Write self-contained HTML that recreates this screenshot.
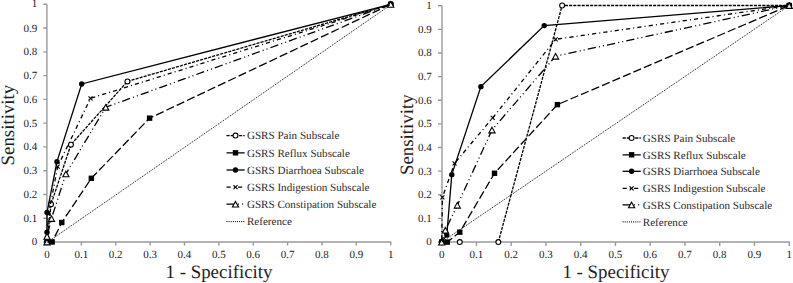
<!DOCTYPE html>
<html><head><meta charset="utf-8"><style>
html,body{margin:0;padding:0;background:#fff;}
body{width:793px;height:283px;overflow:hidden;}
svg{display:block;}
text{font-family:"Liberation Serif",serif;fill:#1a1a1a;text-rendering:geometricPrecision;}
.tl{font-size:11px;fill:#222;}
.ti{font-size:18.9px;fill:#1e1e1e;}
.lg{font-size:11.1px;fill:#2a2a2a;}
</style></head><body>
<svg width="793" height="283" viewBox="0 0 793 283">
<rect width="793" height="283" fill="#fff"/>
<path d="M46.9 4.3V242.0H391.20" stroke="#9a9a9a" stroke-width="1.4" fill="none"/>
<path d="M43.30 242.00H46.9M47.00 242.0V245.60M43.30 218.23H46.9M81.37 242.0V245.60M43.30 194.46H46.9M115.74 242.0V245.60M43.30 170.69H46.9M150.11 242.0V245.60M43.30 146.92H46.9M184.48 242.0V245.60M43.30 123.15H46.9M218.85 242.0V245.60M43.30 99.38H46.9M253.22 242.0V245.60M43.30 75.61H46.9M287.59 242.0V245.60M43.30 51.84H46.9M321.96 242.0V245.60M43.30 28.07H46.9M356.33 242.0V245.60M43.30 4.30H46.9M390.70 242.0V245.60" stroke="#9a9a9a" stroke-width="1.4" fill="none"/>
<text x="37.30" y="245.47" text-anchor="end" class="tl">0</text>
<text x="47.00" y="258.1" text-anchor="middle" class="tl">0</text>
<text x="37.30" y="221.70" text-anchor="end" class="tl">0.1</text>
<text x="81.37" y="258.1" text-anchor="middle" class="tl">0.1</text>
<text x="37.30" y="197.93" text-anchor="end" class="tl">0.2</text>
<text x="115.74" y="258.1" text-anchor="middle" class="tl">0.2</text>
<text x="37.30" y="174.16" text-anchor="end" class="tl">0.3</text>
<text x="150.11" y="258.1" text-anchor="middle" class="tl">0.3</text>
<text x="37.30" y="150.39" text-anchor="end" class="tl">0.4</text>
<text x="184.48" y="258.1" text-anchor="middle" class="tl">0.4</text>
<text x="37.30" y="126.62" text-anchor="end" class="tl">0.5</text>
<text x="218.85" y="258.1" text-anchor="middle" class="tl">0.5</text>
<text x="37.30" y="102.85" text-anchor="end" class="tl">0.6</text>
<text x="253.22" y="258.1" text-anchor="middle" class="tl">0.6</text>
<text x="37.30" y="79.08" text-anchor="end" class="tl">0.7</text>
<text x="287.59" y="258.1" text-anchor="middle" class="tl">0.7</text>
<text x="37.30" y="55.31" text-anchor="end" class="tl">0.8</text>
<text x="321.96" y="258.1" text-anchor="middle" class="tl">0.8</text>
<text x="37.30" y="31.54" text-anchor="end" class="tl">0.9</text>
<text x="356.33" y="258.1" text-anchor="middle" class="tl">0.9</text>
<text x="37.30" y="7.17" text-anchor="end" class="tl">1</text>
<text x="390.70" y="258.1" text-anchor="middle" class="tl">1</text>
<text transform="translate(14.00 125.10) rotate(-90)" text-anchor="middle" class="ti">Sensitivity</text>
<text x="219.00" y="278.40" text-anchor="middle" class="ti">1 - Specificity</text>
<path d="M47.00 242.00L51.06 204.21L70.92 144.64L127.43 81.43L390.70 4.30" stroke="#000" stroke-width="1.3" fill="none" stroke-dasharray="3.1,1.1" stroke-dashoffset="-0.9"/>
<circle cx="47.00" cy="242.00" r="2.45" fill="#fff" stroke="#000" stroke-width="1.1"/>
<circle cx="51.06" cy="204.21" r="2.45" fill="#fff" stroke="#000" stroke-width="1.1"/>
<circle cx="70.92" cy="144.64" r="2.45" fill="#fff" stroke="#000" stroke-width="1.1"/>
<circle cx="127.43" cy="81.43" r="2.45" fill="#fff" stroke="#000" stroke-width="1.1"/>
<circle cx="390.70" cy="4.30" r="2.45" fill="#fff" stroke="#000" stroke-width="1.1"/>
<path d="M47.00 242.00L52.16 242.00L61.78 222.51L91.34 178.30L149.59 118.16L390.70 4.30" stroke="#000" stroke-width="1.3" fill="none" stroke-dasharray="8.3,3.1"/>
<rect x="44.30" y="239.30" width="5.4" height="5.4" fill="#000"/>
<rect x="49.46" y="239.30" width="5.4" height="5.4" fill="#000"/>
<rect x="59.08" y="219.81" width="5.4" height="5.4" fill="#000"/>
<rect x="88.64" y="175.60" width="5.4" height="5.4" fill="#000"/>
<rect x="146.89" y="115.46" width="5.4" height="5.4" fill="#000"/>
<rect x="388.00" y="1.60" width="5.4" height="5.4" fill="#000"/>
<path d="M47.00 242.00L47.00 232.25L47.00 212.53L56.97 161.66L81.71 83.93L390.70 4.30" stroke="#000" stroke-width="1.3" fill="none"/>
<circle cx="47.00" cy="242.00" r="2.7" fill="#000"/>
<circle cx="47.00" cy="232.25" r="2.7" fill="#000"/>
<circle cx="47.00" cy="212.53" r="2.7" fill="#000"/>
<circle cx="56.97" cy="161.66" r="2.7" fill="#000"/>
<circle cx="81.71" cy="83.93" r="2.7" fill="#000"/>
<circle cx="390.70" cy="4.30" r="2.7" fill="#000"/>
<path d="M47.00 242.00L47.00 234.87L48.72 213.48L57.65 166.65L90.51 98.36L390.70 4.30" stroke="#000" stroke-width="1.3" fill="none" stroke-dasharray="4.2,3.1,1.05,3.1" stroke-dashoffset="-3.9"/>
<path d="M45.00 240.00L49.00 244.00M49.00 240.00L45.00 244.00" stroke="#000" stroke-width="1.1" fill="none"/>
<path d="M45.00 232.87L49.00 236.87M49.00 232.87L45.00 236.87" stroke="#000" stroke-width="1.1" fill="none"/>
<path d="M46.72 211.48L50.72 215.48M50.72 211.48L46.72 215.48" stroke="#000" stroke-width="1.1" fill="none"/>
<path d="M55.65 164.65L59.65 168.65M59.65 164.65L55.65 168.65" stroke="#000" stroke-width="1.1" fill="none"/>
<path d="M88.51 96.36L92.51 100.36M92.51 96.36L88.51 100.36" stroke="#000" stroke-width="1.1" fill="none"/>
<path d="M388.70 2.30L392.70 6.30M392.70 2.30L388.70 6.30" stroke="#000" stroke-width="1.1" fill="none"/>
<path d="M47.00 242.00L47.00 236.30L51.47 218.47L65.90 173.92L105.77 107.22L390.70 4.30" stroke="#000" stroke-width="1.3" fill="none" stroke-dasharray="8.3,3.1,1.05,3.1,1.05,3.1" stroke-dashoffset="-8.5"/>
<path d="M47.00 239.30L50.10 244.90L43.90 244.90Z" fill="#fff" stroke="#000" stroke-width="1.1"/>
<path d="M47.00 233.60L50.10 239.20L43.90 239.20Z" fill="#fff" stroke="#000" stroke-width="1.1"/>
<path d="M51.47 215.77L54.57 221.37L48.37 221.37Z" fill="#fff" stroke="#000" stroke-width="1.1"/>
<path d="M65.90 171.22L69.00 176.82L62.80 176.82Z" fill="#fff" stroke="#000" stroke-width="1.1"/>
<path d="M105.77 104.52L108.87 110.12L102.67 110.12Z" fill="#fff" stroke="#000" stroke-width="1.1"/>
<path d="M390.70 1.60L393.80 7.20L387.60 7.20Z" fill="#fff" stroke="#000" stroke-width="1.1"/>
<path d="M47.00 242.50L390.70 4.80" stroke="#000" stroke-width="0.95" fill="none" stroke-dasharray="1.05,1.05"/>
<path d="M226.50 135.60H244.70" stroke="#000" stroke-width="1.3" fill="none" stroke-dasharray="3.1,1.1"/>
<circle cx="235.50" cy="135.60" r="2.45" fill="#fff" stroke="#000" stroke-width="1.1"/>
<text x="246.90" y="139.10" class="lg">GSRS Pain Subscale</text>
<path d="M226.50 152.80H244.70" stroke="#000" stroke-width="1.3" fill="none" stroke-dasharray="8.3,3.1"/>
<rect x="232.80" y="150.10" width="5.4" height="5.4" fill="#000"/>
<text x="246.90" y="156.60" class="lg">GSRS Reflux Subscale</text>
<path d="M226.50 170.00H244.70" stroke="#000" stroke-width="1.3" fill="none"/>
<circle cx="235.50" cy="170.00" r="2.7" fill="#000"/>
<text x="246.90" y="173.60" class="lg">GSRS Diarrhoea Subscale</text>
<path d="M226.50 187.10H244.70" stroke="#000" stroke-width="1.3" fill="none" stroke-dasharray="4.2,3.1,1.05,3.1"/>
<path d="M233.50 185.10L237.50 189.10M237.50 185.10L233.50 189.10" stroke="#000" stroke-width="1.1" fill="none"/>
<text x="246.90" y="190.80" class="lg">GSRS Indigestion Subscale</text>
<path d="M226.50 204.10H244.70" stroke="#000" stroke-width="1.3" fill="none" stroke-dasharray="8.3,3.1,1.05,3.1,1.05,3.1"/>
<path d="M235.50 201.40L238.60 207.00L232.40 207.00Z" fill="#fff" stroke="#000" stroke-width="1.1"/>
<text x="246.90" y="207.60" class="lg">GSRS Constipation Subscale</text>
<path d="M226.50 221.60H244.70" stroke="#000" stroke-width="1.0" fill="none" stroke-dasharray="1.05,1.05"/>
<text x="246.90" y="224.80" class="lg">Reference</text>
<path d="M442.0 5.7V242.0H789.70" stroke="#9a9a9a" stroke-width="1.4" fill="none"/>
<path d="M438.00 242.00H442.0M441.70 242.0V246.00M438.00 218.37H442.0M476.45 242.0V246.00M438.00 194.74H442.0M511.20 242.0V246.00M438.00 171.11H442.0M545.95 242.0V246.00M438.00 147.48H442.0M580.70 242.0V246.00M438.00 123.85H442.0M615.45 242.0V246.00M438.00 100.22H442.0M650.20 242.0V246.00M438.00 76.59H442.0M684.95 242.0V246.00M438.00 52.96H442.0M719.70 242.0V246.00M438.00 29.33H442.0M754.45 242.0V246.00M438.00 5.70H442.0M789.20 242.0V246.00" stroke="#9a9a9a" stroke-width="1.4" fill="none"/>
<text x="431.80" y="245.47" text-anchor="end" class="tl">0</text>
<text x="441.70" y="258.1" text-anchor="middle" class="tl">0</text>
<text x="431.80" y="221.84" text-anchor="end" class="tl">0.1</text>
<text x="476.45" y="258.1" text-anchor="middle" class="tl">0.1</text>
<text x="431.80" y="198.21" text-anchor="end" class="tl">0.2</text>
<text x="511.20" y="258.1" text-anchor="middle" class="tl">0.2</text>
<text x="431.80" y="174.58" text-anchor="end" class="tl">0.3</text>
<text x="545.95" y="258.1" text-anchor="middle" class="tl">0.3</text>
<text x="431.80" y="150.95" text-anchor="end" class="tl">0.4</text>
<text x="580.70" y="258.1" text-anchor="middle" class="tl">0.4</text>
<text x="431.80" y="127.32" text-anchor="end" class="tl">0.5</text>
<text x="615.45" y="258.1" text-anchor="middle" class="tl">0.5</text>
<text x="431.80" y="103.69" text-anchor="end" class="tl">0.6</text>
<text x="650.20" y="258.1" text-anchor="middle" class="tl">0.6</text>
<text x="431.80" y="80.06" text-anchor="end" class="tl">0.7</text>
<text x="684.95" y="258.1" text-anchor="middle" class="tl">0.7</text>
<text x="431.80" y="56.43" text-anchor="end" class="tl">0.8</text>
<text x="719.70" y="258.1" text-anchor="middle" class="tl">0.8</text>
<text x="431.80" y="32.80" text-anchor="end" class="tl">0.9</text>
<text x="754.45" y="258.1" text-anchor="middle" class="tl">0.9</text>
<text x="431.80" y="9.17" text-anchor="end" class="tl">1</text>
<text x="789.20" y="258.1" text-anchor="middle" class="tl">1</text>
<text transform="translate(413.40 134.70) rotate(-90)" text-anchor="middle" class="ti">Sensitivity</text>
<text x="615.90" y="278.40" text-anchor="middle" class="ti">1 - Specificity</text>
<path d="M498.34 242.10L562.11 5.50L789.20 5.50" stroke="#000" stroke-width="1.3" fill="none" stroke-dasharray="3.1,1.1"/>
<circle cx="441.70" cy="242.10" r="2.45" fill="#fff" stroke="#000" stroke-width="1.1"/>
<circle cx="459.77" cy="242.10" r="2.45" fill="#fff" stroke="#000" stroke-width="1.1"/>
<circle cx="498.34" cy="242.10" r="2.45" fill="#fff" stroke="#000" stroke-width="1.1"/>
<circle cx="562.11" cy="5.50" r="2.45" fill="#fff" stroke="#000" stroke-width="1.1"/>
<circle cx="789.20" cy="5.50" r="2.45" fill="#fff" stroke="#000" stroke-width="1.1"/>
<path d="M441.70 242.10L447.26 242.10L459.77 232.16L494.52 173.25L557.42 104.64L789.20 5.50" stroke="#000" stroke-width="1.3" fill="none" stroke-dasharray="8.3,3.1" stroke-dashoffset="-3.5"/>
<rect x="439.00" y="239.40" width="5.4" height="5.4" fill="#000"/>
<rect x="444.56" y="239.40" width="5.4" height="5.4" fill="#000"/>
<rect x="457.07" y="229.46" width="5.4" height="5.4" fill="#000"/>
<rect x="491.82" y="170.55" width="5.4" height="5.4" fill="#000"/>
<rect x="554.72" y="101.94" width="5.4" height="5.4" fill="#000"/>
<rect x="786.50" y="2.80" width="5.4" height="5.4" fill="#000"/>
<path d="M441.70 242.10L446.81 235.10L451.78 174.67L480.90 86.65L544.21 25.61L789.20 5.50" stroke="#000" stroke-width="1.3" fill="none"/>
<circle cx="441.70" cy="242.10" r="2.7" fill="#000"/>
<circle cx="446.81" cy="235.10" r="2.7" fill="#000"/>
<circle cx="451.78" cy="174.67" r="2.7" fill="#000"/>
<circle cx="480.90" cy="86.65" r="2.7" fill="#000"/>
<circle cx="544.21" cy="25.61" r="2.7" fill="#000"/>
<circle cx="789.20" cy="5.50" r="2.7" fill="#000"/>
<path d="M441.70 242.10L442.39 197.38L454.56 163.31L492.71 117.88L555.68 39.33L789.20 5.50" stroke="#000" stroke-width="1.3" fill="none" stroke-dasharray="4.2,3.1,1.05,3.1" stroke-dashoffset="-2.8"/>
<path d="M439.70 240.10L443.70 244.10M443.70 240.10L439.70 244.10" stroke="#000" stroke-width="1.1" fill="none"/>
<path d="M440.39 195.38L444.39 199.38M444.39 195.38L440.39 199.38" stroke="#000" stroke-width="1.1" fill="none"/>
<path d="M452.56 161.31L456.56 165.31M456.56 161.31L452.56 165.31" stroke="#000" stroke-width="1.1" fill="none"/>
<path d="M490.71 115.88L494.71 119.88M494.71 115.88L490.71 119.88" stroke="#000" stroke-width="1.1" fill="none"/>
<path d="M553.68 37.33L557.68 41.33M557.68 37.33L553.68 41.33" stroke="#000" stroke-width="1.1" fill="none"/>
<path d="M787.20 3.50L791.20 7.50M791.20 3.50L787.20 7.50" stroke="#000" stroke-width="1.1" fill="none"/>
<path d="M441.70 242.10L445.38 230.08L457.34 205.19L491.98 129.95L555.61 56.18L789.20 5.50" stroke="#000" stroke-width="1.3" fill="none" stroke-dasharray="8.3,3.1,1.05,3.1,1.05,3.1" stroke-dashoffset="2.8"/>
<path d="M441.70 239.40L444.80 245.00L438.60 245.00Z" fill="#fff" stroke="#000" stroke-width="1.1"/>
<path d="M445.38 227.38L448.48 232.98L442.28 232.98Z" fill="#fff" stroke="#000" stroke-width="1.1"/>
<path d="M457.34 202.49L460.44 208.09L454.24 208.09Z" fill="#fff" stroke="#000" stroke-width="1.1"/>
<path d="M491.98 127.25L495.08 132.85L488.88 132.85Z" fill="#fff" stroke="#000" stroke-width="1.1"/>
<path d="M555.61 53.48L558.71 59.08L552.51 59.08Z" fill="#fff" stroke="#000" stroke-width="1.1"/>
<path d="M789.20 2.80L792.30 8.40L786.10 8.40Z" fill="#fff" stroke="#000" stroke-width="1.1"/>
<path d="M441.70 242.10L789.20 5.50" stroke="#000" stroke-width="0.95" fill="none" stroke-dasharray="1.05,1.05"/>
<path d="M622.60 138.00H640.80" stroke="#000" stroke-width="1.3" fill="none" stroke-dasharray="3.1,1.1"/>
<circle cx="631.60" cy="138.00" r="2.45" fill="#fff" stroke="#000" stroke-width="1.1"/>
<text x="642.80" y="141.80" class="lg">GSRS Pain Subscale</text>
<path d="M622.60 154.80H640.80" stroke="#000" stroke-width="1.3" fill="none" stroke-dasharray="8.3,3.1"/>
<rect x="628.90" y="152.10" width="5.4" height="5.4" fill="#000"/>
<text x="642.80" y="158.80" class="lg">GSRS Reflux Subscale</text>
<path d="M622.60 171.30H640.80" stroke="#000" stroke-width="1.3" fill="none"/>
<circle cx="631.60" cy="171.30" r="2.7" fill="#000"/>
<text x="642.80" y="175.30" class="lg">GSRS Diarrhoea Subscale</text>
<path d="M622.60 188.30H640.80" stroke="#000" stroke-width="1.3" fill="none" stroke-dasharray="4.2,3.1,1.05,3.1"/>
<path d="M629.60 186.30L633.60 190.30M633.60 186.30L629.60 190.30" stroke="#000" stroke-width="1.1" fill="none"/>
<text x="642.80" y="192.00" class="lg">GSRS Indigestion Subscale</text>
<path d="M622.60 204.90H640.80" stroke="#000" stroke-width="1.3" fill="none" stroke-dasharray="8.3,3.1,1.05,3.1,1.05,3.1"/>
<path d="M631.60 202.20L634.70 207.80L628.50 207.80Z" fill="#fff" stroke="#000" stroke-width="1.1"/>
<text x="642.80" y="208.80" class="lg">GSRS Constipation Subscale</text>
<path d="M622.60 221.90H640.80" stroke="#000" stroke-width="1.0" fill="none" stroke-dasharray="1.05,1.05"/>
<text x="642.80" y="225.80" class="lg">Reference</text>
</svg>
</body></html>
